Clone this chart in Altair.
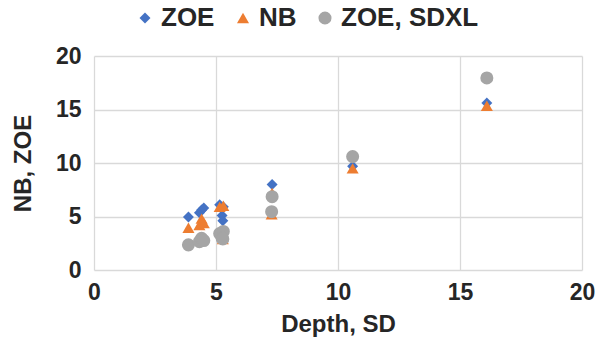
import altair as alt
import pandas as pd

depth = [3.87, 4.32, 4.41, 4.5, 5.15, 5.3, 5.25, 5.28, 7.3, 7.28, 10.6, 16.1]
zoe =   [4.95, 5.35, 5.6, 5.8, 6.1, 5.9, 5.1, 4.6, 8.0, 6.8, 9.7, 15.6]
nb =    [3.95, 4.2, 4.8, 4.4, 5.9, 6.0, 3.3, 2.9, 7.2, 5.2, 9.5, 15.35]
sdxl =  [2.35, 2.65, 2.96, 2.75, 3.4, 3.6, 3.0, 2.9, 6.85, 5.45, 10.6, 17.95]

series = ["ZOE", "NB", "ZOE, SDXL"]
rows = []
for name, vals in zip(series, [zoe, nb, sdxl]):
    for d, v in zip(depth, vals):
        rows.append({"Depth": d, "Value": v, "Series": name})
df = pd.DataFrame(rows)

FONT = "Liberation Sans"
TXT = "#262626"

chart = alt.Chart(df).mark_point(filled=True, opacity=1).encode(
    x=alt.X("Depth:Q", scale=alt.Scale(domain=[0, 20], nice=False),
            axis=alt.Axis(title="Depth, SD", values=[0, 5, 10, 15, 20], grid=True,
                          labelFlush=False, domain=False, ticks=False,
                          labelPadding=11, titlePadding=8)),
    y=alt.Y("Value:Q", scale=alt.Scale(domain=[0, 20], nice=False),
            axis=alt.Axis(title="NB, ZOE", values=[0, 5, 10, 15, 20], grid=True,
                          labelFlush=False, domain=False, ticks=False,
                          labelPadding=13, titlePadding=20)),
    color=alt.Color("Series:N", sort=series,
                    scale=alt.Scale(domain=series, range=["#4472C4", "#ED7D31", "#A5A5A5"]),
                    legend=alt.Legend(title=None, orient="none", legendX=38, legendY=-51,
                                      direction="horizontal", columnPadding=15,
                                      symbolSize=80, labelFontSize=26, labelFont=FONT,
                                      labelFontWeight="bold", labelColor=TXT, labelOffset=3)),
    shape=alt.Shape("Series:N", sort=series,
                    scale=alt.Scale(domain=series, range=["diamond", "triangle-up", "circle"])),
    size=alt.Size("Series:N", sort=series,
                  scale=alt.Scale(domain=series, range=[120, 170, 150]), legend=None),
).properties(
    width=488, height=214,
    autosize=alt.AutoSizeParams(type="none"),
    padding={"left": 94, "top": 56, "right": 24, "bottom": 82},
).configure_view(stroke=None).configure_axis(
    gridColor="#D9D9D9", gridWidth=1.3,
    labelFont=FONT, labelFontSize=23, labelFontWeight="bold", labelColor=TXT,
    titleFont=FONT, titleFontSize=24, titleFontWeight="bold", titleColor=TXT,
)

chart.save("out.html", embed_options={"renderer": "svg", "actions": False})
